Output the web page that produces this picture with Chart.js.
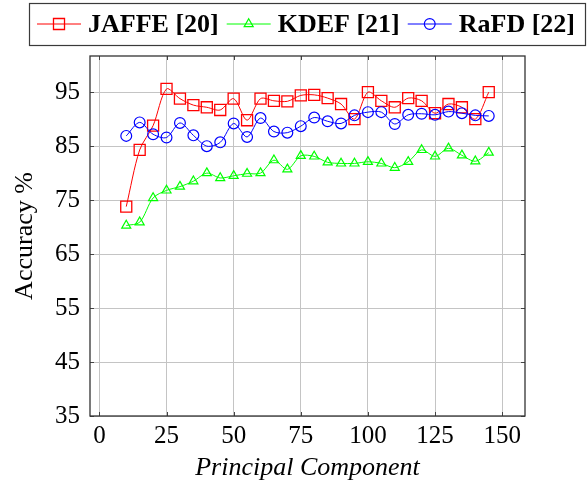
<!DOCTYPE html>
<html>
<head>
<meta charset="utf-8">
<script src="https://cdn.jsdelivr.net/npm/chart.js@4.4.0/dist/chart.umd.min.js"></script>
<style>
  html, body { margin: 0; padding: 0; background: #fff; }
  #wrap { width: 587px; height: 481px; }
</style>
</head>
<body>
<div id="wrap"><canvas id="chart" width="587" height="481"></canvas></div>
<script>
// principal components on the x axis
let pcs = [10, 15, 20, 25, 30, 35, 40, 45, 50, 55, 60, 65, 70, 75,
           80, 85, 90, 95, 100, 105, 110, 115, 120, 125, 130, 135, 140, 145];

// accuracy (%) per dataset
let jaffe = [73.8, 84.3, 88.8, 95.6, 93.8, 92.6, 92.2, 91.7, 93.8, 89.8, 93.8, 93.4, 93.3, 94.4,
             94.5, 93.9, 92.8, 90.0, 95.0, 93.4, 92.2, 93.9, 93.4, 91.1, 92.8, 92.2, 90.0, 95.0];
let kdef  = [70.3, 70.9, 75.4, 76.8, 77.5, 78.5, 80.0, 79.1, 79.5, 79.9, 80.0, 82.4, 80.7, 83.2,
             83.1, 82.0, 81.8, 81.8, 82.1, 81.8, 81.0, 82.1, 84.3, 83.1, 84.6, 83.3, 82.2, 83.8];
let rafd  = [86.9, 89.4, 87.2, 86.6, 89.3, 87.0, 85.0, 85.7, 89.2, 86.7, 90.2, 87.7, 87.5, 88.7,
             90.3, 89.6, 89.2, 90.7, 91.3, 91.3, 89.1, 90.8, 91.0, 90.8, 91.4, 91.1, 90.7, 90.6];

let seriesNames = ["JAFFE [20]", "KDEF [21]", "RaFD [22]"];
let xTicks = [0, 25, 50, 75, 100, 125, 150];
let yTicks = [35, 45, 55, 65, 75, 85, 95];

const serif = '"Liberation Serif", "Times New Roman", serif';

function toPoints(vals) {
  return pcs.map((x, i) => ({ x: x, y: vals[i] }));
}

// --- legend box at the top, line sample + marker + bold text ---
const boxLegend = {
  id: "boxLegend",
  afterDraw(chart) {
    let ctx = chart.ctx;
    ctx.save();
    ctx.strokeStyle = "#3a3a3a";
    ctx.lineWidth = 1.2;
    ctx.strokeRect(29.5, 3.5, 556, 42);

    ctx.font = "bold 26px " + serif;
    ctx.textBaseline = "alphabetic";
    let x = 37, y = 24;
    chart.data.datasets.forEach(ds => {
      ctx.strokeStyle = ds.borderColor;
      ctx.lineWidth = 1;
      ctx.beginPath();
      ctx.moveTo(x, y);
      ctx.lineTo(x + 44, y);
      ctx.stroke();

      ctx.fillStyle = "rgba(0,0,0,0)";
      ctx.lineWidth = ds.pointBorderWidth;
      Chart.helpers.drawPoint(ctx, {
        pointStyle: ds.pointStyle, radius: ds.pointRadius,
        rotation: 0, borderWidth: ds.pointBorderWidth
      }, x + 22, y);

      ctx.fillStyle = "#000";
      ctx.fillText(ds.label, x + 51, 32);
      x += 51 + ctx.measureText(ds.label).width + 8;
    });
    ctx.restore();
  }
};

// --- full frame with inward tick marks ---
const frame = {
  id: "frame",
  afterDraw(chart) {
    let ctx = chart.ctx;
    let a = chart.chartArea;
    let sx = chart.scales.x, sy = chart.scales.y;
    ctx.save();
    ctx.strokeStyle = "#444";
    ctx.lineWidth = 1;
    ctx.beginPath();
    xTicks.forEach(v => {
      let p = Math.round(sx.getPixelForValue(v)) + 0.5;
      ctx.moveTo(p, a.bottom); ctx.lineTo(p, a.bottom - 4);
      ctx.moveTo(p, a.top); ctx.lineTo(p, a.top + 4);
    });
    yTicks.forEach(v => {
      let p = Math.round(sy.getPixelForValue(v)) + 0.5;
      ctx.moveTo(a.left, p); ctx.lineTo(a.left + 4, p);
      ctx.moveTo(a.right, p); ctx.lineTo(a.right - 4, p);
    });
    ctx.stroke();
    ctx.strokeStyle = "#333";
    ctx.lineWidth = 1.3;
    ctx.strokeRect(a.left, a.top, a.right - a.left, a.bottom - a.top);
    ctx.restore();
  }
};

let ctx = document.getElementById("chart").getContext("2d");
new Chart(ctx, {
  type: "line",
  data: {
    datasets: [
      {
        label: seriesNames[0],
        data: toPoints(jaffe),
        borderColor: "#ff0000",
        borderWidth: 1,
        pointStyle: "rect",
        pointRadius: 7.8,
        pointBorderWidth: 1.3,
        pointBackgroundColor: "rgba(0,0,0,0)",
        fill: false,
        tension: 0.3,
        order: 2
      },
      {
        label: seriesNames[1],
        data: toPoints(kdef),
        borderColor: "#00ff00",
        borderWidth: 1,
        pointStyle: "triangle",
        pointRadius: 5.2,
        pointBorderWidth: 1.2,
        pointBackgroundColor: "rgba(0,0,0,0)",
        fill: false,
        tension: 0.3,
        order: 1
      },
      {
        label: seriesNames[2],
        data: toPoints(rafd),
        borderColor: "#0000ff",
        borderWidth: 1,
        pointStyle: "circle",
        pointRadius: 5.4,
        pointBorderWidth: 1.2,
        pointBackgroundColor: "rgba(0,0,0,0)",
        fill: false,
        tension: 0.3,
        order: 0
      }
    ]
  },
  options: {
    responsive: false,
    animation: false,
    layout: { padding: { top: 56, right: 62, left: 0, bottom: 0 } },
    plugins: {
      legend: { display: false },
      tooltip: { enabled: false }
    },
    scales: {
      x: {
        type: "linear",
        min: -3.5,
        max: 158.5,
        afterBuildTicks: s => { s.ticks = xTicks.map(v => ({ value: v })); },
        afterFit: s => { s.height = 65; },
        grid: { color: "#c4c4c4", lineWidth: 1, drawTicks: false },
        border: { display: false },
        ticks: {
          color: "#000", padding: 5, maxRotation: 0, autoSkip: false,
          font: { family: serif, size: 25 }
        },
        title: {
          display: true, text: "Principal Component", color: "#000",
          font: { family: serif, size: 26, style: "italic", lineHeight: 1 },
          padding: { top: 0, bottom: 0 }
        }
      },
      y: {
        min: 35,
        max: 101.7,
        afterBuildTicks: s => { s.ticks = yTicks.map(v => ({ value: v })); },
        afterFit: s => { s.width = 90; },
        grid: { color: "#c4c4c4", lineWidth: 1, drawTicks: false },
        border: { display: false },
        ticks: {
          color: "#000", padding: 10, autoSkip: false,
          font: { family: serif, size: 25 }
        },
        title: {
          display: true, text: "Accuracy %", color: "#000",
          font: { family: serif, size: 26, lineHeight: 1 },
          padding: { top: 12, bottom: 0 }
        }
      }
    }
  },
  plugins: [boxLegend, frame]
});
</script>
</body>
</html>
